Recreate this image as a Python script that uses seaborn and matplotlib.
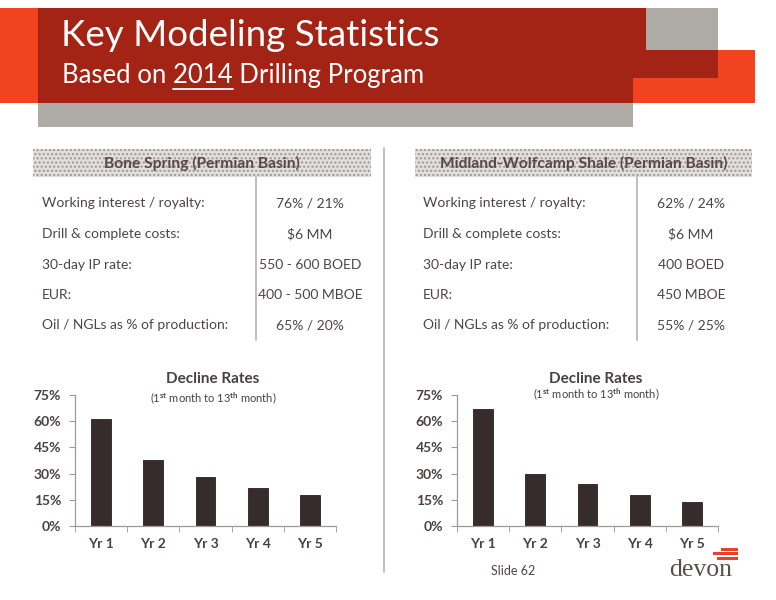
import numpy as np
import pandas as pd
import matplotlib
matplotlib.use("Agg")
import matplotlib.pyplot as plt
import seaborn as sns
from matplotlib.patches import Rectangle
from matplotlib.lines import Line2D

# data
years = ["Yr 1", "Yr 2", "Yr 3", "Yr 4", "Yr 5"]
bone_decline = [61, 38, 28, 22, 18]
midland_decline = [67, 30, 24, 18, 14]
yticks = [0, 15, 30, 45, 60, 75]

row_labels = ["Working interest / royalty:", "Drill & complete costs:",
              "30-day IP rate:", "EUR:", "Oil / NGLs as % of production:"]
bone_values = ["76% / 21%", "$6 MM", "550 - 600 BOED", "400 - 500 MBOE", "65% / 20%"]
midland_values = ["62% / 24%", "$6 MM", "400 BOED", "450 MBOE", "55% / 25%"]
bone_title = "Bone Spring (Permian Basin)"
midland_title = "Midland-Wolfcamp Shale (Permian Basin)"

sns.set_style("white")
plt.rcParams["font.family"] = ["Lato", "DejaVu Sans"]
plt.rcParams["mathtext.fontset"] = "custom"
plt.rcParams["mathtext.rm"] = "Lato:bold"
plt.rcParams["mathtext.default"] = "rm"

W, H = 776, 600
DARK_RED = "#a32314"
ORANGE = "#f1431f"
GRAY = "#aeaaa5"
TEXT = "#4d4545"
BAR = "#362b2d"


def fx(x):
    return x / W


def fy(y):
    return 1 - y / H


def box(x0, y0, x1, y1, color, z=1, **kw):
    fig.add_artist(Rectangle((fx(x0), fy(y1)), (x1 - x0) / W, (y1 - y0) / H,
                             transform=fig.transFigure, facecolor=color,
                             edgecolor="none", zorder=z, **kw))


fig = plt.figure(figsize=(7.76, 6), dpi=100)

# banner
box(633, 50, 755, 103, ORANGE, 1)
box(38, 8, 633, 103, DARK_RED, 2)
box(633, 8, 646, 78, DARK_RED, 2)
box(646, 50, 718, 78, DARK_RED, 2)
box(646, 8, 718, 50, GRAY, 2)
box(38, 103, 633, 127, GRAY, 2)
box(0, 8, 38, 103, ORANGE, 2)

fig.text(fx(61), fy(35), "Key Modeling Statistics", color="white",
         fontsize=26.5, va="center", ha="left", zorder=5)
SUB_FS = 18.5
fig.text(fx(62), fy(76), "Based on 2014 Drilling Program", color="white",
         fontsize=SUB_FS, va="center", ha="left", zorder=5)
# underline under 2014
r = fig.canvas.get_renderer()
t_a = fig.text(0, 0, "Based on ", fontsize=SUB_FS)
t_b = fig.text(0, 0, "Based on 2014", fontsize=SUB_FS)
xa = t_a.get_window_extent(r).width
xb = t_b.get_window_extent(r).width
t_a.remove()
t_b.remove()
fig.add_artist(Line2D([fx(62 + xa), fx(62 + xb)], [fy(89), fy(89)],
                      transform=fig.transFigure, color="white", lw=1.3, zorder=5))

# centre divider
fig.add_artist(Line2D([fx(384), fx(384)], [fy(148), fy(572)],
                      transform=fig.transFigure, color="#b8b2b2", lw=1.2))

row_y = [203, 234, 265, 295, 325]


def table(x0, x1, xsplit, xlab, xval, title, values):
    box(x0, 149, x1, 177, "#e2dede", 1)
    fig.add_artist(Rectangle((fx(x0), fy(177)), (x1 - x0) / W, 28 / H,
                             transform=fig.transFigure, facecolor="none",
                             edgecolor="#9e9696", hatch="....", lw=0, zorder=1))
    fig.text(fx((x0 + x1) / 2), fy(163), title, ha="center", va="center",
             color="#5a4848", fontsize=11.2, fontweight="bold", zorder=3)
    fig.add_artist(Line2D([fx(xsplit), fx(xsplit)], [fy(177), fy(340)],
                          transform=fig.transFigure, color="#b8b2b2", lw=1.2))
    for lab, val, y in zip(row_labels, values, row_y):
        fig.text(fx(xlab), fy(y), lab, ha="left", va="center", color=TEXT, fontsize=10)
        fig.text(fx(xval), fy(y), val, ha="center", va="center", color=TEXT, fontsize=10)


table(33, 371, 256, 42, 310, bone_title, bone_values)
table(415, 752, 637, 423, 691, midland_title, midland_values)


def decline_chart(x0, values, title_x, sub_y):
    ax = fig.add_axes([fx(x0), fy(526), 261 / W, 131 / H])
    df = pd.DataFrame({"year": years, "rate": values})
    sns.barplot(data=df, x="year", y="rate", ax=ax, color=BAR, saturation=1,
                width=0.38, edgecolor="#2a2022", linewidth=0.6)
    ax.set_xlim(-0.5, 4.5)
    ax.set_ylim(0, 75)
    ax.set_yticks(yticks)
    ax.set_yticklabels([f"{v}%" for v in yticks], fontweight="bold",
                       color="#4a4040", fontsize=10)
    ax.set_xticks(range(len(years)))
    ax.set_xticklabels(years, fontweight="bold", color="#4a4040", fontsize=10)
    ax.set_xticks(np.arange(-0.5, 5, 1), minor=True)
    ax.tick_params(axis="x", which="major", length=0, pad=9)
    ax.tick_params(axis="x", which="minor", length=4, direction="out",
                   color="#a09898", bottom=True)
    ax.tick_params(axis="y", length=4, direction="out", color="#a09898",
                   left=True, pad=6)
    for s in ["top", "right"]:
        ax.spines[s].set_visible(False)
    for s in ["left", "bottom"]:
        ax.spines[s].set_color("#a09898")
        ax.spines[s].set_linewidth(0.9)
    ax.set_xlabel("")
    ax.set_ylabel("")
    ax.patch.set_alpha(0)
    fig.text(fx(title_x), fy(379), "Decline Rates", ha="center", va="center",
             fontsize=11, fontweight="bold", color="#4a4040")
    fig.text(fx(title_x), fy(sub_y), "(1$^{\\mathrm{st}}$ month to 13$^{\\mathrm{th}}$ month)",
             ha="center", va="center", fontsize=8, color="#4a4040")


decline_chart(75, bone_decline, 213, 398)
decline_chart(457, midland_decline, 596, 394)

# footer
fig.text(fx(513), fy(571), "Slide 62", ha="center", va="center", fontsize=9, color=TEXT)
fig.text(fx(701), fy(570), "devon", ha="center", va="center", fontsize=18.5,
         family=["Liberation Serif", "DejaVu Serif"], color="#5a4f4f")
for xs, y in [(721, 549), (713, 553.5), (717, 558)]:
    box(xs, y - 1.5, 738, y + 1.5, "#e8402a", 3)

fig.savefig("out.png", dpi=100)
